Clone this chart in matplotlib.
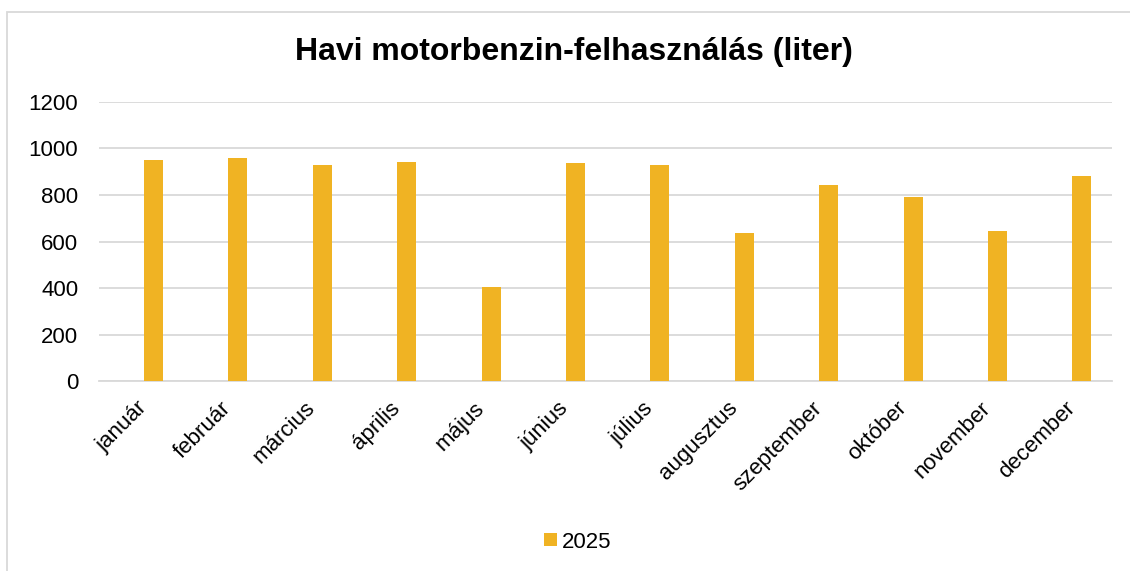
import matplotlib
matplotlib.use("Agg")
import matplotlib.pyplot as plt
from matplotlib.patches import Rectangle

# ── data ──────────────────────────────────────────────────────────────────────
months = ["január", "február", "március", "április", "május", "június",
          "július", "augusztus", "szeptember", "október", "november", "december"]
liters_2025 = [952, 960, 930, 943, 404, 938, 927, 637, 844, 792, 645, 882]
series_name = "2025"
title = "Havi motorbenzin-felhasználás (liter)"
yticks = [0, 200, 400, 600, 800, 1000, 1200]

C_BAR = "#F0B323"
C_GRID = "#D9D9D9"

plt.rcParams["font.family"] = ["Liberation Sans", "DejaVu Sans"]

fig = plt.figure(figsize=(11.3, 5.71), dpi=100)
ax = fig.add_axes([0.0876, 0.3327, 0.8964, 0.4887])

# outer chart frame (runs off the right and bottom edges)
fig.patches.append(Rectangle((7 / 1130, -0.05), 1.2, (571 - 12) / 571 + 0.05,
                             transform=fig.transFigure, fill=False,
                             ec=C_GRID, lw=1.3))

x = list(range(len(months)))
xb = [i + 0.145 for i in x]
ax.bar(xb, liters_2025, width=0.225, color=C_BAR, label=series_name, zorder=3)

ax.set_xlim(-0.5, len(months) - 0.5)
ax.set_ylim(0, 1200)
ax.set_yticks(yticks)
ax.set_yticklabels([str(v) for v in yticks], fontsize=16)
ax.set_xticks([i - 0.06 for i in x])
ax.set_xticklabels(months, rotation=45, ha="right", rotation_mode="anchor",
                   fontsize=16)
ax.tick_params(axis="both", length=0)
ax.tick_params(axis="x", pad=12)
ax.tick_params(axis="y", pad=15)
ax.yaxis.grid(True, color=C_GRID, lw=1.3)
ax.set_axisbelow(True)
for s in ("top", "right", "left"):
    ax.spines[s].set_visible(False)
ax.spines["bottom"].set_color(C_GRID)
ax.spines["bottom"].set_linewidth(1.3)

fig.text(574 / 1130, 1 - 52 / 571, title, ha="center", va="center",
         fontsize=23, fontweight="bold")

fig.legend(loc="center", bbox_to_anchor=(578 / 1130, 1 - 542 / 571),
           frameon=False, fontsize=16, handlelength=0.55, handleheight=0.55,
           handletextpad=0.25)

fig.savefig("out.png", dpi=100)
